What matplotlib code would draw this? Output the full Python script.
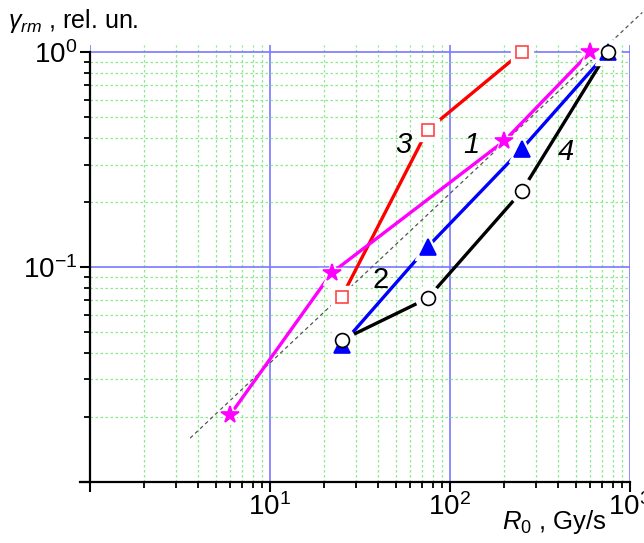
import matplotlib
matplotlib.use("Agg")
from matplotlib import pyplot as plt

plt.rcParams['font.family'] = ['Liberation Sans', 'DejaVu Sans']
plt.rcParams['mathtext.fontset'] = 'custom'
plt.rcParams['mathtext.rm'] = 'Liberation Sans'
plt.rcParams['mathtext.it'] = 'Liberation Sans:italic'

# dose rate R0 (Gy/s) vs relative gamma_rm, four curves
dose_rate_1 = [6, 22, 200, 600]
gamma_1 = [0.0205, 0.094, 0.386, 1.0]
dose_rate_2 = [25, 75, 250, 750]
gamma_2 = [0.0434, 0.124, 0.354, 1.0]
dose_rate_3 = [25, 75, 250]
gamma_3 = [0.0725, 0.434, 1.0]
dose_rate_4 = [25, 75, 250, 750]
gamma_4 = [0.0457, 0.0715, 0.225, 1.0]
# dashed guide line end points
guide_x = [3.6, 1170]
guide_y = [0.016, 1.53]

curve_labels = ['1', '2', '3', '4']

fig = plt.figure(figsize=(6.44, 5.43), dpi=100, facecolor='white')
ax = fig.add_axes([90 / 644, 1 - 482 / 543, 540 / 644, 437 / 543])
ax.set_xscale('log')
ax.set_yscale('log')
ax.set_xlim(1, 1000)
ax.set_ylim(0.01, 1.08)

ax.grid(which='major', color='#7878ff', lw=1.2, ls='-', zorder=0)
ax.grid(which='minor', color='#8be88b', lw=0.9, ls=(0, (2, 2)), zorder=0)
ax.set_axisbelow(True)

ax.plot(guide_x, guide_y, color='#555555', lw=0.9, ls=(0, (3, 2.5)), clip_on=False, zorder=1)

series = [
    (dose_rate_3, gamma_3, '#ff0000', 's', 8.5, 'white', '#ff4444'),
    (dose_rate_1, gamma_1, '#ff00ff', '*', 13, '#ff00ff', '#ff00ff'),
    (dose_rate_2, gamma_2, '#0000ff', '^', 11, '#0000ff', '#0000ff'),
    (dose_rate_4, gamma_4, '#000000', 'o', 10, 'white', '#000000'),
]

for x, y, c, m, ms, mfc, mec in series:
    ax.plot(x, y, color=c, lw=2.4, zorder=2, clip_on=False, solid_capstyle='butt')
for x, y, c, m, ms, mfc, mec in series:
    ax.plot(x, y, ls='none', marker=m, ms=ms + 8, mfc='white', mec='white', zorder=3, clip_on=False)
for x, y, c, m, ms, mfc, mec in series:
    ax.plot(x, y, ls='none', marker=m, ms=ms, mfc=mfc, mec=mec, mew=1.2, zorder=4, clip_on=False)

ax.text(132, 0.37, curve_labels[0], fontsize=21, style='italic', ha='center', va='center')
ax.text(41, 0.087, curve_labels[1], fontsize=21, ha='center', va='center')
ax.text(55, 0.37, curve_labels[2], fontsize=21, style='italic', ha='center', va='center')
ax.text(441, 0.343, curve_labels[3], fontsize=21, style='italic', ha='center', va='center')

for side in ['top', 'right']:
    ax.spines[side].set_visible(False)
ax.spines['left'].set_bounds(0.01, 1)
ax.spines['bottom'].set_bounds(0.88, 1000)
for side in ['left', 'bottom']:
    ax.spines[side].set_linewidth(1.6)

ax.set_xticks([1, 10, 100, 1000])
ax.set_xticklabels(['', '$10^{1}$', '$10^{2}$', '$10^{3}$'])
ax.set_yticks([0.01, 0.1, 1])
ax.set_yticklabels(['', '$10^{-1}$', '$10^{0}$'])
ax.tick_params(which='major', direction='out', length=7, width=1.5, labelsize=20)
ax.tick_params(axis='x', which='major', pad=1)
ax.tick_params(axis='y', which='major', pad=2)
ax.tick_params(which='minor', direction='out', length=4, width=1.3, labelleft=False, labelbottom=False)

fig.text(8 / 644, 1 - 28 / 543, r'$\gamma_{rm}$ , rel. un.', fontsize=18, va='baseline', ha='left')
fig.text(502 / 644, 1 - 529 / 543, r'$R_{0}$ , Gy/s', fontsize=18.5, va='baseline', ha='left')

fig.savefig('out.png', dpi=100)
